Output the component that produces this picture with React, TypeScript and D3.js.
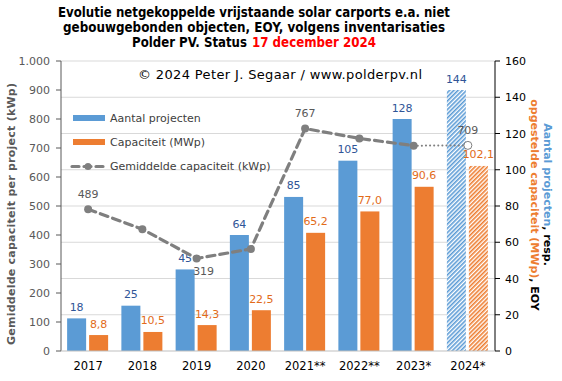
import React from "react";
import * as d3 from "d3";

const categories = ["2017", "2018", "2019", "2020", "2021**", "2022**", "2023*", "2024*"];
const projectCounts = [18, 25, 45, 64, 85, 105, 128, 144];
const capacityMWp = [8.8, 10.5, 14.3, 22.5, 65.2, 77.0, 90.6, 102.1];
const avgCapacityKWp = [489, 420, 319, 352, 767, 733, 708, 709];
const avgLabelShown = [true, false, true, false, true, false, false, true];
const leftTicks = [0, 100, 200, 300, 400, 500, 600, 700, 800, 900, 1000];
const rightTicks = [0, 20, 40, 60, 80, 100, 120, 140, 160];

const W = 562, H = 381;
const X0 = 61, X1 = 495, Y0 = 351, Y1 = 61;
const BLUE = "#5B9BD5", ORANGE = "#ED7D31", GRAY = "#7F7F7F";
const FONT = "'DejaVu Sans', Verdana, sans-serif";

const nl = d3.formatLocale({ decimal: ",", thousands: ".", grouping: [3], currency: ["", ""] });
const fmtThousands = nl.format(",");
const fmtOne = nl.format(".1f");

export default function App() {
  const x = d3.scaleBand<string>().domain(categories).range([X0, X1]).paddingInner(0).paddingOuter(0);
  const yL = d3.scaleLinear().domain([0, 1000]).range([Y0, Y1]);
  const yR = d3.scaleLinear().domain([0, 160]).range([Y0, Y1]);
  const cx = (c: string) => (x(c) as number) + x.bandwidth() / 2;
  const barW = 19;
  const last = categories.length - 1;

  const pts = categories.map((c, i) => [cx(c), yL(avgCapacityKWp[i])] as [number, number]);
  const line = d3.line();
  const dashedPath = line(pts.slice(0, last)) as string;
  const dottedPath = line(pts.slice(last - 1)) as string;

  return (
    <svg width={W} height={H} style={{ position: "absolute", left: 0, top: 0, background: "#fff" }} fontFamily={FONT}>
      <defs>
        <pattern id="hatchBlue" patternUnits="userSpaceOnUse" width="3" height="3" patternTransform="rotate(45)">
          <rect width="3" height="3" fill="#fff" />
          <line x1="0.8" y1="0" x2="0.8" y2="3" stroke={BLUE} strokeWidth="1.6" />
        </pattern>
        <pattern id="hatchOrange" patternUnits="userSpaceOnUse" width="3" height="3" patternTransform="rotate(45)">
          <rect width="3" height="3" fill="#fff" />
          <line x1="0.8" y1="0" x2="0.8" y2="3" stroke={ORANGE} strokeWidth="1.6" />
        </pattern>
      </defs>
      <rect width={W} height={H} fill="#fff" />

      {/* Title */}
      <g fontWeight="bold" fontSize="13.5" fill="#000">
        <text x={254} y={17} textAnchor="middle" textLength={392} lengthAdjust="spacingAndGlyphs">Evolutie netgekoppelde vrijstaande solar carports e.a. niet</text>
        <text x={254} y={32} textAnchor="middle" textLength={382} lengthAdjust="spacingAndGlyphs">gebouwgebonden objecten, EOY, volgens inventarisaties</text>
        <text x={132} y={47} textLength={115} lengthAdjust="spacingAndGlyphs">Polder PV. Status</text>
        <text x={252} y={47} fill="#FF0000" textLength={124} lengthAdjust="spacingAndGlyphs">17 december 2024</text>
      </g>

      {/* Gridlines (right axis) */}
      {rightTicks.filter(t => t > 0).map(t => (
        <line key={"g" + t} x1={X0} x2={X1} y1={yR(t)} y2={yR(t)} stroke="#D9D9D9" strokeWidth={1} />
      ))}

      {/* Copyright */}
      <text x={280} y={79} fontSize="13" textAnchor="middle" fill="#000" textLength={284} lengthAdjust="spacing">© 2024  Peter J. Segaar / www.polderpv.nl</text>

      {/* Bars */}
      {categories.map((c, i) => {
        const xc = cx(c);
        const hatched = i === last;
        return (
          <g key={"b" + c}>
            <rect x={xc - 21} y={yR(projectCounts[i])} width={barW} height={Y0 - yR(projectCounts[i])} fill={hatched ? "url(#hatchBlue)" : BLUE} />
            <rect x={xc + 1} y={yR(capacityMWp[i])} width={barW} height={Y0 - yR(capacityMWp[i])} fill={hatched ? "url(#hatchOrange)" : ORANGE} />
          </g>
        );
      })}

      {/* Bar labels */}
      <g fontSize="11" textAnchor="middle">
        {categories.map((c, i) => {
          const xc = cx(c);
          return (
            <g key={"bl" + c}>
              <text x={xc - 11.5} y={yR(projectCounts[i]) - 7.5} fill="#2F5597">{projectCounts[i]}</text>
              <text x={xc + 10.5} y={yR(capacityMWp[i]) - 7.5} fill="#E26B1A">{fmtOne(capacityMWp[i])}</text>
            </g>
          );
        })}
      </g>

      {/* Average line */}
      <path d={dashedPath} fill="none" stroke={GRAY} strokeWidth={3.2} strokeDasharray="8,5" strokeLinecap="round" />
      <path d={dottedPath} fill="none" stroke={GRAY} strokeWidth={2} strokeDasharray="0.1,4" strokeLinecap="round" />
      {pts.map((p, i) => i < last ? (
        <circle key={"m" + i} cx={p[0]} cy={p[1]} r={4} fill={GRAY} />
      ) : (
        <circle key={"m" + i} cx={p[0]} cy={p[1]} r={4} fill="#fff" stroke={GRAY} strokeWidth={1} />
      ))}
      <g fontSize="11" textAnchor="middle" fill="#595959">
        {categories.map((c, i) => avgLabelShown[i] ? (
          <text key={"al" + c} x={pts[i][0] + (i === 2 ? 7 : 0)} y={i === 2 ? pts[i][1] + 17 : pts[i][1] - 11.5}>{avgCapacityKWp[i]}</text>
        ) : null)}
      </g>

      {/* Axes */}
      <line x1={X0} x2={X0} y1={Y1} y2={Y0} stroke="#595959" strokeWidth={1} />
      {leftTicks.map(t => (
        <g key={"lt" + t}>
          <line x1={X0 - 5} x2={X0} y1={yL(t)} y2={yL(t)} stroke="#595959" />
          <text x={50} y={yL(t) + 4} fontSize="11" textAnchor="end" fill="#595959">{fmtThousands(t)}</text>
        </g>
      ))}
      <line x1={X1} x2={X1} y1={Y1} y2={Y0} stroke="#000" strokeWidth={1} />
      {rightTicks.map(t => (
        <g key={"rt" + t}>
          <line x1={X1} x2={X1 + 5} y1={yR(t)} y2={yR(t)} stroke="#000" />
          <text x={505} y={yR(t) + 4} fontSize="11" textAnchor="start" fill="#000">{t}</text>
        </g>
      ))}
      <line x1={X0} x2={X1} y1={Y0} y2={Y0} stroke="#BFBFBF" strokeWidth={1} />

      {/* X labels */}
      {categories.map(c => (
        <text key={"xl" + c} x={cx(c)} y={370} fontSize="11.5" textAnchor="middle" fill="#000">{c}</text>
      ))}

      {/* Left axis title */}
      <text transform={`translate(15,214) rotate(-90)`} fontSize="11" fontWeight="bold" textAnchor="middle" fill="#595959" textLength={262} lengthAdjust="spacing">Gemiddelde capaciteit per project (kWp)</text>

      {/* Right axis title */}
      <text transform={`translate(544,194.5) rotate(90)`} fontSize="11" fontWeight="bold" textAnchor="middle" fill="#000"><tspan fill={BLUE}>Aantal projecten</tspan>, resp.</text>
      <text transform={`translate(531,205) rotate(90)`} fontSize="11" fontWeight="bold" textAnchor="middle" fill="#000"><tspan fill={ORANGE}>opgestelde capaciteit (MWp)</tspan>, EOY</text>

      {/* Legend */}
      <g fontSize="11" fill="#404040">
        <rect x={73} y={115} width={32} height={6} fill={BLUE} />
        <text x={110} y={122}>Aantal projecten</text>
        <rect x={73} y={139} width={32} height={6} fill={ORANGE} />
        <text x={110} y={146}>Capaciteit (MWp)</text>
        <line x1={72} x2={104} y1={166.5} y2={166.5} stroke={GRAY} strokeWidth={3.2} strokeDasharray="7,5" strokeLinecap="round" />
        <circle cx={88} cy={166.5} r={3.5} fill={GRAY} />
        <text x={110} y={170}>Gemiddelde capaciteit (kWp)</text>
      </g>
    </svg>
  );
}
